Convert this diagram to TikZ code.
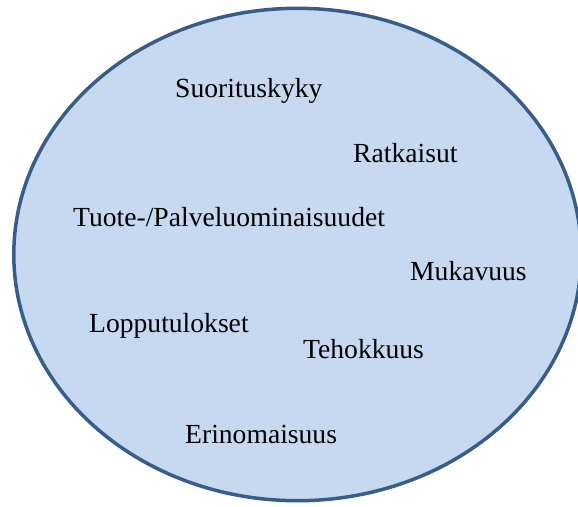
\documentclass[tikz,border=0pt]{standalone}
\usepackage{fontspec}
\setmainfont{Liberation Serif}
\definecolor{ellfill}{RGB}{198,217,240}
\definecolor{elldraw}{RGB}{56,93,138}
\begin{document}
\begin{tikzpicture}[x=1pt,y=-1pt,
  lbl/.style={anchor=base west,inner sep=0pt,font=\fontsize{27.6}{33}\selectfont}]
\clip (0,0) rectangle (578,506);
\fill[white] (0,0) rectangle (578,506);
\draw[elldraw,fill=ellfill,line width=3.5pt] (297.5,254.5) ellipse [x radius=283.7,y radius=246.2];
\node[lbl] (a) at (175,97) {Suorituskyky};
\node[lbl] (b) at (353,162) {Ratkaisut};
\node[lbl] (c) at (73,226) {Tuote-/Palveluominaisuudet};
\node[lbl] (d) at (410,280) {Mukavuus};
\node[lbl] (e) at (89,332) {Lopputulokset};
\node[lbl] (f) at (303,358) {Tehokkuus};
\node[lbl] (g) at (185,443) {Erinomaisuus};
\end{tikzpicture}
\end{document}
